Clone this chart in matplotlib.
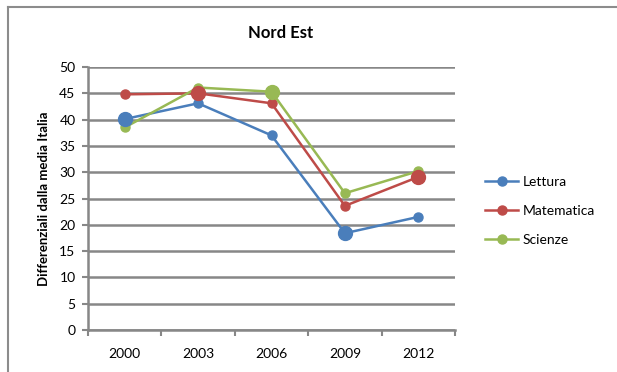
import matplotlib
matplotlib.use('Agg')
import matplotlib.pyplot as plt
from matplotlib.lines import Line2D

plt.rcParams['font.family'] = ['Lato', 'DejaVu Sans']

anni = ['2000', '2003', '2006', '2009', '2012']
lettura = [40.1, 43.1, 37.0, 18.4, 21.5]
matematica = [44.8, 45.0, 43.1, 23.6, 29.1]
scienze = [38.5, 46.1, 45.3, 26.0, 30.2]

# punti evidenziati con marker più grande
grandi_lettura = [0, 3]
grandi_matematica = [1, 4]
grandi_scienze = [2]

serie = [
    ('Lettura', lettura, grandi_lettura, '#4a7ebb'),
    ('Matematica', matematica, grandi_matematica, '#be4b48'),
    ('Scienze', scienze, grandi_scienze, '#98b954'),
]

grigio = '#878787'

fig = plt.figure(figsize=(6.17, 3.72), dpi=100)
ax = fig.add_axes([88/617, 42/372, 367/617, 263/372])

x = list(range(len(anni)))
for nome, valori, grandi, colore in serie:
    ax.plot(x, valori, color=colore, lw=1.8, marker='o', ms=6.5, zorder=3)
    for i in grandi:
        ax.plot(x[i], valori[i], color=colore, marker='o', ms=10, zorder=4)

ax.set_xlim(-0.5, 4.5)
ax.set_ylim(0, 50)
ax.set_yticks(range(0, 51, 5))
ax.set_xticks(x)
ax.set_xticklabels(anni)
ax.set_xticks([i - 0.5 for i in range(len(anni) + 1)], minor=True)
ax.tick_params(axis='x', which='major', length=0, pad=13, labelsize=10)
ax.tick_params(axis='x', which='minor', length=4, width=1.5, color=grigio)
ax.tick_params(axis='y', length=4, width=1.5, color=grigio, pad=5, labelsize=10)

ax.yaxis.grid(True, color=grigio, lw=1.8)
ax.set_axisbelow(True)
for s in ['top', 'right']:
    ax.spines[s].set_visible(False)
for s in ['left', 'bottom']:
    ax.spines[s].set_color(grigio)
    ax.spines[s].set_linewidth(1.8)

ax.set_ylabel('Differenziali dalla media Italia', fontsize=9.5, fontweight='bold', labelpad=7)
fig.text(281/617, 1 - 33/372, 'Nord Est', ha='center', va='center',
         fontsize=12, fontweight='bold')

handles = [Line2D([], [], color=c, lw=1.8, marker='o', ms=6.5) for _, _, _, c in serie]
ax.legend(handles, [n for n, _, _, _ in serie], loc='center left',
          bbox_to_anchor=(478/617, 1 - 211/372), bbox_transform=fig.transFigure,
          frameon=False, fontsize=10, handlelength=2.4, handletextpad=0.3,
          labelspacing=1.2, borderpad=0)

# bordo dell'area del grafico
fig.add_artist(Line2D([8/617, 8/617], [0, 1 - 7/372], color='#8c8c8c', lw=1.5))
fig.add_artist(Line2D([8/617, 1], [1 - 7/372, 1 - 7/372], color='#8c8c8c', lw=1.5))

fig.savefig('out.png', dpi=100)
